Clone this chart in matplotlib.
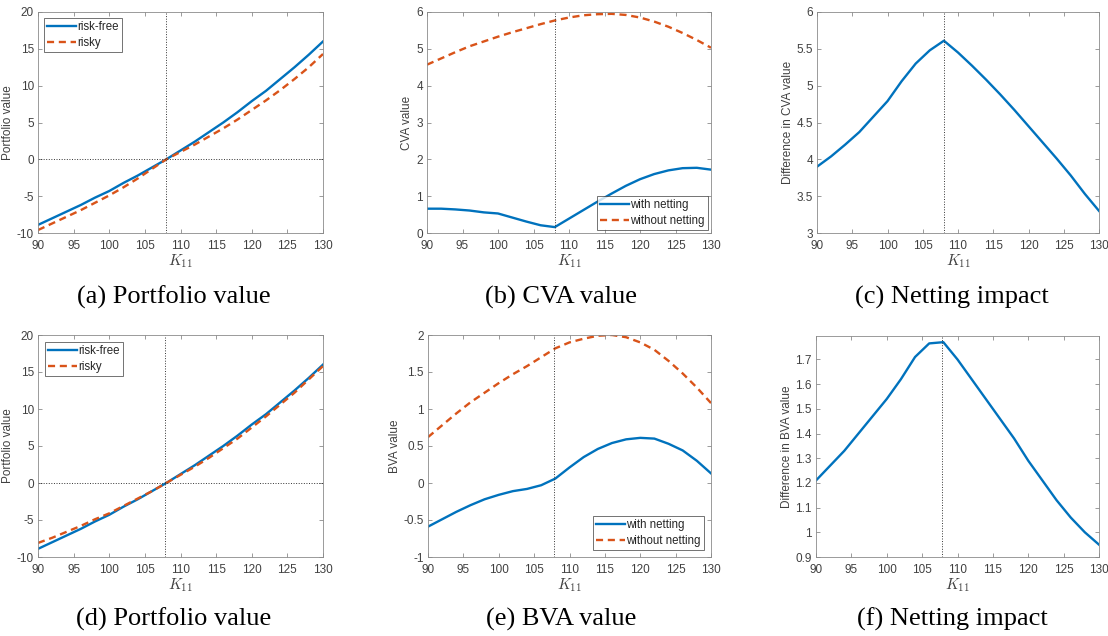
import matplotlib
matplotlib.use("Agg")
import matplotlib.pyplot as plt

plt.rcParams['font.family'] = ['Liberation Sans', 'DejaVu Sans']
plt.rcParams['mathtext.fontset'] = 'cm'
plt.rcParams['axes.unicode_minus'] = False

W, H = 1108, 636

K = [90, 92, 94, 96, 98, 100, 102, 104, 106, 108, 110, 112, 114, 116, 118, 120, 122, 124, 126, 128, 130]

# (a) CVA case portfolio value
pv_riskfree = [-8.9, -8.0, -7.1, -6.2, -5.2, -4.3, -3.2, -2.2, -1.1, 0.0, 1.2, 2.4, 3.7, 5.0, 6.4, 7.9, 9.3, 10.9, 12.5, 14.2, 16.0]
pv_risky_cva = [-9.6, -8.7, -7.8, -6.9, -5.9, -4.9, -3.8, -2.6, -1.3, 0.0, 1.0, 2.0, 3.1, 4.2, 5.4, 6.7, 8.0, 9.4, 10.9, 12.5, 14.3]
# (b) CVA
cva_with = [0.66, 0.66, 0.64, 0.61, 0.56, 0.53, 0.42, 0.31, 0.21, 0.16, 0.39, 0.62, 0.85, 1.07, 1.28, 1.46, 1.60, 1.70, 1.76, 1.77, 1.72]
cva_without = [4.57, 4.74, 4.91, 5.07, 5.20, 5.33, 5.45, 5.56, 5.67, 5.77, 5.85, 5.91, 5.94, 5.95, 5.92, 5.85, 5.74, 5.60, 5.43, 5.24, 5.03]
# (c) CVA netting impact
cva_diff = [3.90, 4.04, 4.20, 4.37, 4.58, 4.79, 5.06, 5.30, 5.48, 5.61, 5.45, 5.27, 5.08, 4.88, 4.67, 4.45, 4.23, 4.01, 3.78, 3.53, 3.30]
# (d) BVA case portfolio value
pv_risky_bva = [-8.1, -7.4, -6.6, -5.8, -4.9, -4.1, -3.1, -2.1, -1.1, 0.0, 1.1, 2.2, 3.4, 4.7, 6.0, 7.5, 9.0, 10.6, 12.2, 14.0, 15.8]
# (e) BVA
bva_with = [-0.59, -0.49, -0.39, -0.30, -0.22, -0.16, -0.11, -0.08, -0.03, 0.06, 0.21, 0.35, 0.46, 0.54, 0.59, 0.61, 0.60, 0.53, 0.44, 0.30, 0.13]
bva_without = [0.62, 0.78, 0.94, 1.09, 1.22, 1.35, 1.47, 1.58, 1.70, 1.82, 1.90, 1.95, 1.99, 2.00, 1.97, 1.90, 1.80, 1.65, 1.48, 1.29, 1.08]
# (f) BVA netting impact
bva_diff = [1.21, 1.27, 1.33, 1.40, 1.47, 1.54, 1.62, 1.71, 1.765, 1.77, 1.70, 1.62, 1.54, 1.46, 1.38, 1.29, 1.21, 1.13, 1.06, 1.00, 0.95]

captions = ["(a) Portfolio value", "(b) CVA value", "(c) Netting impact",
            "(d) Portfolio value", "(e) BVA value", "(f) Netting impact"]

BLUE = '#0072BD'
ORANGE = '#D95319'
TXT = '#404040'
EDGE = '#8a8a8a'

fig = plt.figure(figsize=(W / 100, H / 100), dpi=100)


def ax_px(l, t, r, b):
    return fig.add_axes([l / W, 1 - b / H, (r - l) / W, (b - t) / H])


def style(ax, ylim, yticks, ylabel, ytl=None):
    ax.set_xlim(90, 130)
    ax.set_xticks(range(90, 131, 5))
    ax.set_ylim(*ylim)
    ax.set_yticks(yticks)
    if ytl is not None:
        ax.set_yticklabels(ytl)
    ax.tick_params(direction='in', length=3, width=0.6, labelsize=8.5, colors=TXT,
                   top=True, right=True, color=EDGE)
    ax.tick_params(axis='x', pad=5)
    ax.tick_params(axis='y', pad=3)
    for s in ax.spines.values():
        s.set_color(EDGE)
        s.set_linewidth(0.6)
    ax.set_ylabel(ylabel, fontsize=8.5, color=TXT, labelpad=2)
    ax.set_xlabel(r'$K_{11}$', fontsize=11, color=TXT, labelpad=0)


def legend(ax, labels, loc, pad):
    leg = ax.legend(labels, loc=loc, fontsize=8.3, frameon=True, fancybox=False,
                    handlelength=2.5, handletextpad=0.1, borderpad=0.3,
                    labelspacing=0.3, borderaxespad=pad)
    leg.get_frame().set_edgecolor('#333333')
    leg.get_frame().set_linewidth(0.6)
    for t in leg.get_texts():
        t.set_color('#262626')


lw = 1.7
dash = (0, (3.0, 2.0))

# (a)
ax = ax_px(38, 12, 323, 233)
ax.plot(K, pv_riskfree, color=BLUE, lw=lw)
ax.plot(K, pv_risky_cva, color=ORANGE, lw=lw, ls=dash)
ax.axvline(108, color='#333333', ls=':', lw=0.7)
ax.axhline(0, color='#333333', ls=':', lw=0.7)
style(ax, (-10, 20), range(-10, 21, 5), 'Portfolio value')
legend(ax, ['risk-free', 'risky'], 'upper left', 0.5)

# (b)
ax = ax_px(427, 12, 711, 233)
ax.plot(K, cva_with, color=BLUE, lw=lw)
ax.plot(K, cva_without, color=ORANGE, lw=lw, ls=dash)
ax.axvline(108, color='#333333', ls=':', lw=0.7)
style(ax, (0, 6), range(0, 7), 'CVA value')
legend(ax, ['with netting', 'without netting'], 'lower right', 0.25)

# (c)
ax = ax_px(817, 12, 1099, 233)
ax.plot(K, cva_diff, color=BLUE, lw=lw)
ax.axvline(108, color='#333333', ls=':', lw=0.7)
style(ax, (3, 6), [3, 3.5, 4, 4.5, 5, 5.5, 6], 'Difference in CVA value',
      ['3', '3.5', '4', '4.5', '5', '5.5', '6'])

# (d)
ax = ax_px(38, 335, 323, 557)
ax.plot(K, pv_riskfree, color=BLUE, lw=lw)
ax.plot(K, pv_risky_bva, color=ORANGE, lw=lw, ls=dash)
ax.axvline(107.8, color='#333333', ls=':', lw=0.7)
ax.axhline(0, color='#333333', ls=':', lw=0.7)
style(ax, (-10, 20), range(-10, 21, 5), 'Portfolio value')
legend(ax, ['risk-free', 'risky'], 'upper left', 0.6)

# (e)
ax = ax_px(428, 335, 711, 557)
ax.plot(K, bva_with, color=BLUE, lw=lw)
ax.plot(K, bva_without, color=ORANGE, lw=lw, ls=dash)
ax.axvline(107.8, color='#333333', ls=':', lw=0.7)
style(ax, (-1, 2), [-1, -0.5, 0, 0.5, 1, 1.5, 2], 'BVA value',
      ['-1', '-0.5', '0', '0.5', '1', '1.5', '2'])
legend(ax, ['with netting', 'without netting'], 'lower right', 0.6)

# (f)
ax = ax_px(816, 336, 1099, 557)
ax.plot(K, bva_diff, color=BLUE, lw=lw)
ax.axvline(107.8, color='#333333', ls=':', lw=0.7)
yt = [0.9, 1.0, 1.1, 1.2, 1.3, 1.4, 1.5, 1.6, 1.7]
style(ax, (0.9, 1.795), yt, 'Difference in BVA value',
      ['0.9', '1', '1.1', '1.2', '1.3', '1.4', '1.5', '1.6', '1.7'])

# captions
cap_x = [174, 561, 952]
cap_y = [297, 619]
for i, c in enumerate(captions):
    fig.text(cap_x[i % 3] / W, 1 - cap_y[i // 3] / H, c, ha='center', va='center',
             fontsize=19, family='Liberation Serif', color='black')

fig.savefig('out.png', dpi=100)
